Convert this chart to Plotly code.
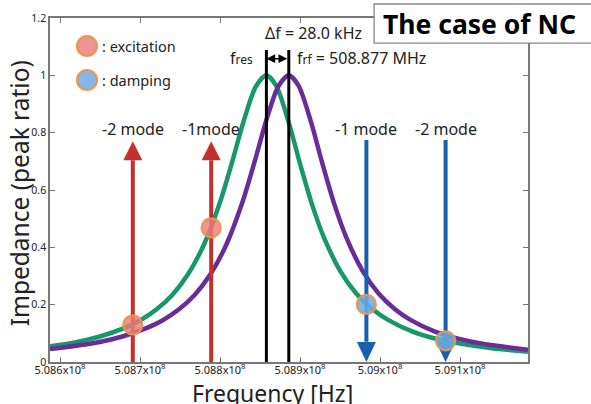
import numpy as np
import plotly.graph_objects as go

# ---------------- data (frequencies in MHz, impedance as peak ratio) ----------------
f_green = [508.5875, 508.62, 508.65, 508.68, 508.70, 508.72, 508.74, 508.76, 508.78,
           508.80, 508.815, 508.83, 508.845, 508.858, 508.87, 508.886, 508.90, 508.915,
           508.93, 508.95, 508.97, 508.99, 509.01, 509.04, 509.07, 509.10, 509.14, 509.185]
z_green = [0.055, 0.069, 0.089, 0.118, 0.145, 0.182, 0.233, 0.306, 0.410,
           0.557, 0.696, 0.844, 0.962, 1.000, 0.965, 0.835, 0.692, 0.550,
           0.434, 0.319, 0.240, 0.186, 0.147, 0.107, 0.081, 0.064, 0.048, 0.036]

f_purple = [508.5875, 508.648, 508.678, 508.708, 508.728, 508.748, 508.768, 508.788,
            508.808, 508.828, 508.843, 508.858, 508.873, 508.886, 508.898, 508.914,
            508.928, 508.943, 508.958, 508.978, 508.998, 509.018, 509.038, 509.068,
            509.098, 509.128, 509.185]
z_purple = [0.045, 0.069, 0.089, 0.118, 0.145, 0.182, 0.233, 0.306,
            0.410, 0.557, 0.696, 0.844, 0.962, 1.000, 0.965, 0.835,
            0.692, 0.550, 0.434, 0.319, 0.240, 0.186, 0.147, 0.107,
            0.081, 0.064, 0.043]

f_res = 508.858
f_rf = 508.886

excite_f = [508.691, 508.789]
excite_z = [0.129, 0.468]
excite_labels = ["-2 mode", "-1mode"]
damp_f = [508.983, 509.082]
damp_z = [0.201, 0.074]
damp_labels = ["-1 mode", "-2 mode"]

red_arrow_top = 0.704   # base of the upward arrowhead
blue_arrow_top = 0.774
blue_head_base = 0.071
marker_line_top = 1.088
label_y = 0.813

x_ticks = [508.6, 508.7, 508.8, 508.9, 509.0, 509.1]
x_ticktext = ["5.086x10<sup>8</sup>", "5.087x10<sup>8</sup>", "5.088x10<sup>8</sup>",
              "5.089x10<sup>8</sup>", "5.09x10<sup>8</sup>", "5.091x10<sup>8</sup>"]
y_ticks = [0, 0.2, 0.4, 0.6, 0.8, 1.0, 1.2]
y_ticktext = ["0", "0.2", "0.4", "0.6", "0.8", "1", "1.2"]

MHz = 1e6
FONT = "Noto Sans"
GREEN = "#17976B"
PURPLE = "#6A2D97"
RED = "#C4302B"
BLUE = "#1660B2"
EXC_FILL = "rgba(235,125,120,0.82)"
DAMP_FILL = "rgba(110,170,228,0.85)"
RING = "rgba(232,150,80,0.95)"
TXT = "#222"

fig = go.Figure()

fig.add_trace(go.Scatter(x=np.array(f_green) * MHz, y=z_green, mode="lines",
                         line=dict(color=GREEN, width=4.5, shape="spline", smoothing=0.8),
                         hoverinfo="skip", showlegend=False))
fig.add_trace(go.Scatter(x=np.array(f_purple) * MHz, y=z_purple, mode="lines",
                         line=dict(color=PURPLE, width=4.5, shape="spline", smoothing=0.8),
                         hoverinfo="skip", showlegend=False))

shapes = []
annotations = []

# red (excitation) upward arrows
for f in excite_f:
    fig.add_trace(go.Scatter(x=[f * MHz, f * MHz], y=[0, red_arrow_top], mode="lines",
                             line=dict(color=RED, width=4), hoverinfo="skip", showlegend=False))
    shapes.append(dict(type="path", xref="x", yref="y", xsizemode="pixel", ysizemode="pixel",
                       xanchor=f * MHz, yanchor=red_arrow_top,
                       path="M-9.5,0 L9.5,0 L0,19 Z", fillcolor=RED, line=dict(width=0),
                       layer="above"))

# blue (damping) downward arrows
for f in damp_f:
    fig.add_trace(go.Scatter(x=[f * MHz, f * MHz], y=[blue_arrow_top, blue_head_base], mode="lines",
                             line=dict(color=BLUE, width=4), hoverinfo="skip", showlegend=False))
    shapes.append(dict(type="path", xref="x", yref="y", xsizemode="pixel", ysizemode="pixel",
                       xanchor=f * MHz, yanchor=0,
                       path="M-9.5,20 L9.5,20 L0,0 Z", fillcolor=BLUE, line=dict(width=0),
                       layer="below"))

# black vertical lines at f_res and f_rf
for f in [f_res, f_rf]:
    fig.add_trace(go.Scatter(x=[f * MHz, f * MHz], y=[0, marker_line_top], mode="lines",
                             line=dict(color="black", width=3), hoverinfo="skip",
                             showlegend=False, cliponaxis=False))

# circles
fig.add_trace(go.Scatter(x=np.array(excite_f) * MHz, y=excite_z, mode="markers",
                         marker=dict(size=19, color=EXC_FILL, line=dict(color=RING, width=2.2)),
                         hoverinfo="skip", showlegend=False))
fig.add_trace(go.Scatter(x=np.array(damp_f) * MHz, y=damp_z, mode="markers",
                         marker=dict(size=19, color=DAMP_FILL, line=dict(color=RING, width=2.2)),
                         hoverinfo="skip", showlegend=False))

# mode labels
for f, t in zip(excite_f + damp_f, excite_labels + damp_labels):
    annotations.append(dict(x=f * MHz, y=label_y, xref="x", yref="y", text=t, showarrow=False,
                            font=dict(family=FONT, size=16, color=TXT),
                            xanchor="center", yanchor="middle"))

# double arrow between f_res and f_rf
annotations.append(dict(x=f_res * MHz, y=1.058, ax=f_rf * MHz, ay=1.058, xref="x", yref="y",
                        axref="x", ayref="y", text="", showarrow=True, arrowhead=2,
                        arrowside="end+start", arrowsize=1.1, arrowwidth=1.6, arrowcolor="black"))

annotations.append(dict(x=f_res * MHz, y=1.148, xref="x", yref="y", xshift=-3,
                        text="Δf = 28.0 kHz", showarrow=False,
                        font=dict(family=FONT, size=16, color=TXT),
                        xanchor="left", yanchor="middle"))
annotations.append(dict(x=f_res * MHz, y=1.06, xref="x", yref="y", xshift=-11,
                        text="f<span style='font-size:12px'>res</span>", showarrow=False,
                        font=dict(family=FONT, size=16, color=TXT),
                        xanchor="right", yanchor="middle"))
annotations.append(dict(x=f_rf * MHz, y=1.06, xref="x", yref="y", xshift=6,
                        text="f<span style='font-size:12px'>rf</span> = 508.877 MHz", showarrow=False,
                        font=dict(family=FONT, size=16, color=TXT),
                        xanchor="left", yanchor="middle"))

# legend
for yy, fill, t in [(0.9186, EXC_FILL, ": excitation"), (0.8198, DAMP_FILL, ": damping")]:
    shapes.append(dict(type="circle", xref="paper", yref="paper", xsizemode="pixel",
                       ysizemode="pixel", xanchor=0.0774, yanchor=yy,
                       x0=-10, x1=10, y0=-10, y1=10, fillcolor=fill,
                       line=dict(color=RING, width=2.2), layer="above"))
    annotations.append(dict(x=0.104, y=yy, xref="paper", yref="paper", text=t,
                            showarrow=False, font=dict(family=FONT, size=14.5, color=TXT),
                            xanchor="left", yanchor="middle"))

# title box
shapes.append(dict(type="rect", xref="paper", yref="paper", x0=0.678, x1=1.3, y0=0.927, y1=1.0407,
                   fillcolor="white", line=dict(color="#888", width=1.3), layer="above"))
annotations.append(dict(x=0.693, y=0.984, xref="paper", yref="paper", text="<b>The case of NC</b>",
                        showarrow=False, font=dict(family=FONT, size=26.5, color="black"),
                        xanchor="left", yanchor="middle"))

# axis titles
annotations.append(dict(x=0.465, y=-0.089, xref="paper", yref="paper", text="Frequency [Hz]",
                        showarrow=False, font=dict(family=FONT, size=23, color=TXT),
                        xanchor="center", yanchor="middle"))
annotations.append(dict(x=-0.063, y=0.49, xref="paper", yref="paper", text="Impedance (peak ratio)",
                        showarrow=False, textangle=-90, font=dict(family=FONT, size=24.5, color=TXT),
                        xanchor="center", yanchor="middle"))

fig.update_layout(
    width=591, height=404,
    margin=dict(l=50, r=63, t=18, b=42),
    paper_bgcolor="white", plot_bgcolor="white",
    shapes=shapes, annotations=annotations,
    showlegend=False,
    xaxis=dict(range=[508.5875 * MHz, 509.185 * MHz], tickvals=[v * MHz for v in x_ticks],
               ticktext=x_ticktext, ticks="inside", ticklen=5, tickcolor="#777",
               showline=True, linecolor="#777", linewidth=1.5, mirror="allticks",
               showgrid=False, zeroline=False, ticklabelstandoff=-3,
               tickfont=dict(family=FONT, size=11, color=TXT)),
    yaxis=dict(range=[0, 1.2], tickvals=y_ticks, ticktext=y_ticktext, ticks="inside",
               ticklen=5, tickcolor="#777", showline=True, linecolor="#777", linewidth=1.5,
               mirror="allticks", showgrid=False, zeroline=False,
               tickfont=dict(family=FONT, size=10.5, color=TXT)),
)

fig.write_html("out.html")
